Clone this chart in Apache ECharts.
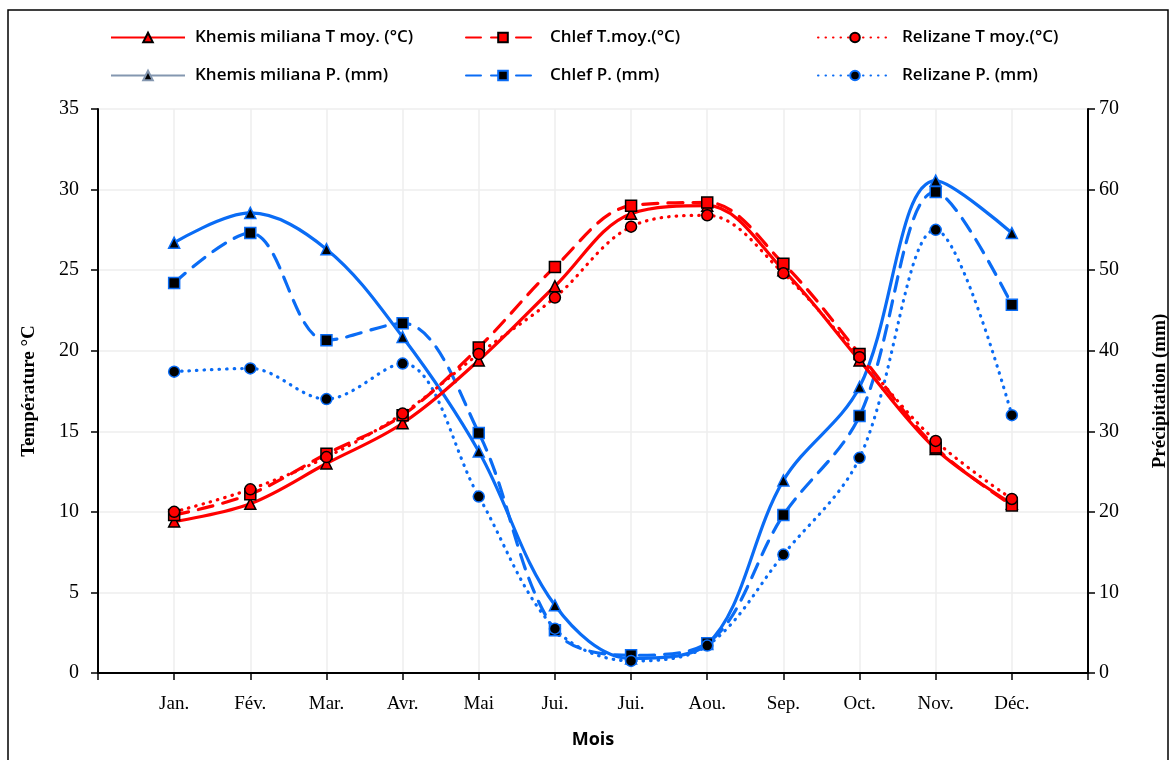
<!DOCTYPE html>
<html>
<head>
<meta charset="utf-8">
<script src="https://cdn.jsdelivr.net/npm/echarts@6/dist/echarts.min.js"></script>
<style>
html,body{margin:0;padding:0;background:#fff;}
#chart{width:1174px;height:760px;}
</style>
</head>
<body>
<div id="chart"></div>
<script>
// ---- Data ----
const months = ['Jan.', 'Fév.', 'Mar.', 'Avr.', 'Mai', 'Jui.', 'Jui.', 'Aou.', 'Sep.', 'Oct.', 'Nov.', 'Déc.'];
const tempTicks = [0, 5, 10, 15, 20, 25, 30, 35];
const precipTicks = [0, 10, 20, 30, 40, 50, 60, 70];
const khemisT   = [9.4, 10.5, 13.0, 15.5, 19.4, 24.0, 28.5, 29.0, 25.0, 19.4, 13.9, 10.5];
const chlefT    = [9.8, 11.1, 13.6, 16.0, 20.2, 25.2, 29.0, 29.2, 25.4, 19.8, 14.0, 10.4];
const relizaneT = [10.0, 11.4, 13.4, 16.1, 19.8, 23.3, 27.7, 28.4, 24.8, 19.6, 14.4, 10.8];
const khemisP   = [53.4, 57.1, 52.6, 41.7, 27.5, 8.4, 1.8, 3.6, 23.9, 35.5, 61.1, 54.6];
const chlefP    = [48.4, 54.6, 41.3, 43.4, 29.8, 5.3, 2.2, 3.7, 19.6, 31.9, 59.7, 45.7];
const relizaneP = [37.4, 37.8, 34.0, 38.4, 21.9, 5.5, 1.5, 3.4, 14.7, 26.7, 55.0, 32.0];
const names = [
  'Khemis miliana T moy. (°C)', 'Chlef T.moy.(°C)', 'Relizane T moy.(°C)',
  'Khemis miliana P. (mm)', 'Chlef P. (mm)', 'Relizane P. (mm)'
];

// ---- Chart ----
const RED = '#ff0000';
const BLUE = '#0a6cf5';
const pts = arr => arr.map((v, i) => [i + 1, v]);
const serifFont = '"Liberation Serif", "DejaVu Serif", serif';
const sansFont = '"Open Sans", "Liberation Sans", sans-serif';

function mkSeries(name, data, yIdx, color, type, symbol, isTemp) {
  return {
    name: name,
    type: 'line',
    yAxisIndex: yIdx,
    data: pts(data),
    smooth: 0.35,
    symbol: symbol,
    symbolSize: 11,
    lineStyle: { color: color, width: 3.2, type: type, cap: type === 'solid' ? 'butt' : 'round' },
    itemStyle: isTemp
      ? { color: RED, borderColor: '#000', borderWidth: 1.5 }
      : { color: '#000', borderColor: BLUE, borderWidth: 1.5 },
    z: isTemp ? 3 : 2
  };
}

const dashT = [15, 10];
const dotT = [0.5, 7];

const series = [
  mkSeries(names[0], khemisT, 0, RED, 'solid', 'triangle', true),
  mkSeries(names[1], chlefT, 0, RED, dashT, 'rect', true),
  mkSeries(names[2], relizaneT, 0, RED, dotT, 'circle', true),
  mkSeries(names[3], khemisP, 1, BLUE, 'solid', 'triangle', false),
  mkSeries(names[4], chlefP, 1, BLUE, dashT, 'rect', false),
  mkSeries(names[5], relizaneP, 1, BLUE, dotT, 'circle', false)
];

const legendPos = [
  [110, 29], [465, 29], [817, 29],
  [110, 67], [465, 67], [817, 67]
];
const legends = names.map((n, i) => {
  const item = { name: n };
  if (i === 3) {
    item.lineStyle = { color: '#8497b0' };
    item.itemStyle = { color: '#000', borderColor: '#8497b0' };
  }
  return {
    data: [item],
    left: legendPos[i][0],
    top: legendPos[i][1],
    padding: 0,
    itemWidth: 74,
    itemHeight: 12,
    textStyle: { fontFamily: sansFont, fontSize: 17, fontWeight: 600, color: '#000', padding: [0, 0, 0, 5] },
    selectedMode: false
  };
});

const chart = echarts.init(document.getElementById('chart'), null, { renderer: 'canvas' });
chart.setOption({
  animation: false,
  backgroundColor: '#fff',
  legend: legends,
  grid: { left: 98, right: 86, top: 109, bottom: 87, containLabel: false, outerBoundsMode: 'none' },
  xAxis: {
    type: 'value',
    min: 0, max: 13, interval: 1,
    name: 'Mois',
    nameLocation: 'middle',
    nameGap: 58,
    nameTextStyle: { fontFamily: sansFont, fontSize: 18, fontWeight: 'bold', color: '#000' },
    axisLine: { show: true, onZero: false, lineStyle: { color: '#000', width: 2 } },
    axisTick: { show: true, length: 7, lineStyle: { color: '#000', width: 1.5 } },
    splitLine: { show: true, lineStyle: { color: '#eeeeee', width: 1.5 } },
    axisLabel: {
      fontFamily: serifFont, fontSize: 19, color: '#000', margin: 22,
      formatter: v => (v >= 1 && v <= 12) ? months[v - 1] : ''
    }
  },
  yAxis: [
    {
      type: 'value', min: 0, max: 35, interval: 5, position: 'left',
      name: 'Température °C',
      nameLocation: 'middle', nameGap: 59, nameRotate: 90,
      nameTextStyle: { fontFamily: serifFont, fontSize: 19, fontWeight: 'bold', color: '#000' },
      axisLine: { show: true, lineStyle: { color: '#000', width: 2 } },
      axisTick: { show: true, length: 7, lineStyle: { color: '#000', width: 1.5 } },
      splitLine: { show: true, lineStyle: { color: '#eeeeee', width: 1.5 } },
      axisLabel: { fontFamily: serifFont, fontSize: 20, color: '#000', margin: 19,
        formatter: v => tempTicks.includes(v) ? String(v) : '' }
    },
    {
      type: 'value', min: 0, max: 70, interval: 10, position: 'right',
      name: 'Précipitation (mm)',
      nameLocation: 'middle', nameGap: 63, nameRotate: 90,
      nameTextStyle: { fontFamily: serifFont, fontSize: 19, fontWeight: 'bold', color: '#000' },
      axisLine: { show: true, lineStyle: { color: '#000', width: 2 } },
      axisTick: { show: true, length: 7, lineStyle: { color: '#000', width: 1.5 } },
      splitLine: { show: false },
      axisLabel: { fontFamily: serifFont, fontSize: 20, color: '#000', margin: 11,
        formatter: v => precipTicks.includes(v) ? String(v) : '' }
    }
  ],
  graphic: [{
    type: 'rect',
    shape: { x: 8, y: 10, width: 1160, height: 760 },
    style: { fill: null, stroke: '#000', lineWidth: 1.5 },
    silent: true, z: 100
  }],
  series: series
});
</script>
</body>
</html>
